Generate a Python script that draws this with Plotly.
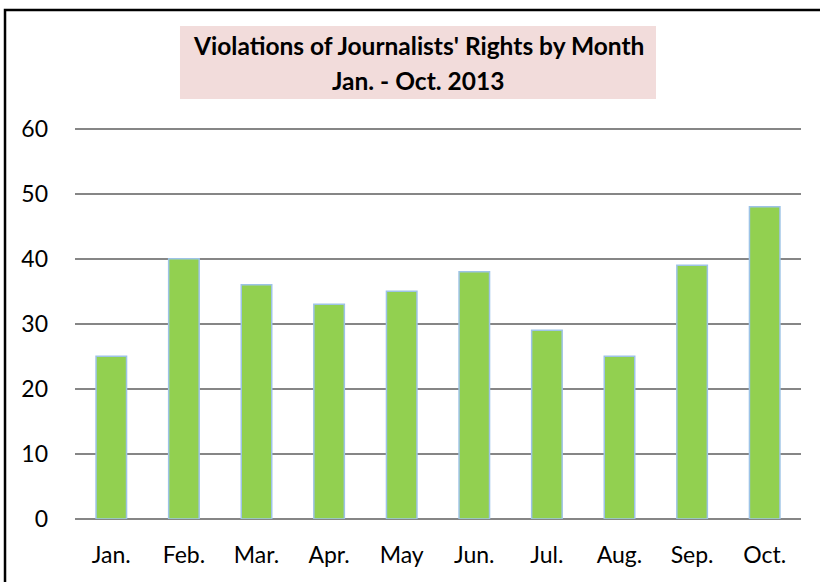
import plotly.graph_objects as go

months = ['Jan.', 'Feb.', 'Mar.', 'Apr.', 'May', 'Jun.', 'Jul.', 'Aug.', 'Sep.', 'Oct.']
violations = [25, 40, 36, 33, 35, 38, 29, 25, 39, 48]
y_ticks = [0, 10, 20, 30, 40, 50, 60]

title_lines = ["Violations of Journalists' Rights by Month", 'Jan. - Oct. 2013']

fig = go.Figure(go.Bar(
    x=months,
    y=violations,
    marker=dict(color='#92D050', line=dict(color='#9DC3E6', width=1.5)),
))

# frame (left + top edges visible, rest falls outside the page)
fig.add_shape(type='rect', xref='paper', yref='paper',
              x0=-0.0964, x1=1.2, y0=-0.4, y1=1.2952,
              line=dict(color='black', width=2.5), layer='below')

# title box
fig.add_shape(type='rect', xref='paper', yref='paper',
              x0=0.1446, x1=0.8003, y0=1.0687, y1=1.2545,
              fillcolor='#F2DCDB', line=dict(width=0), layer='below')
fig.add_annotation(text='<b>' + title_lines[0] + '</b>', xref='paper', yref='paper',
                   x=0.4725, y=1.2036, xanchor='center', yanchor='middle', showarrow=False,
                   font=dict(family='Lato', size=24.5, color='black'))
fig.add_annotation(text='<b>' + title_lines[1] + '</b>', xref='paper', yref='paper',
                   x=0.4725, y=1.1170, xanchor='center', yanchor='middle', showarrow=False,
                   font=dict(family='Lato', size=24.5, color='black'))

fig.update_layout(
    width=820, height=582,
    margin=dict(l=75, r=19, t=126, b=63),
    paper_bgcolor='white', plot_bgcolor='white',
    bargap=0.58,
    showlegend=False,
    font=dict(family='Lato', size=23, color='black'),
)
fig.update_xaxes(showgrid=False, showline=False, ticks='', ticklabelstandoff=20)
fig.update_yaxes(range=[0, 60.4], tickvals=y_ticks, showgrid=True,
                 gridcolor='#868686', gridwidth=2, zeroline=True,
                 zerolinecolor='#868686', zerolinewidth=2,
                 showline=False, ticks='', ticklabelstandoff=26)

fig.write_html('out.html', config={'displayModeBar': False},
               post_script="document.body.style.margin='0';")
